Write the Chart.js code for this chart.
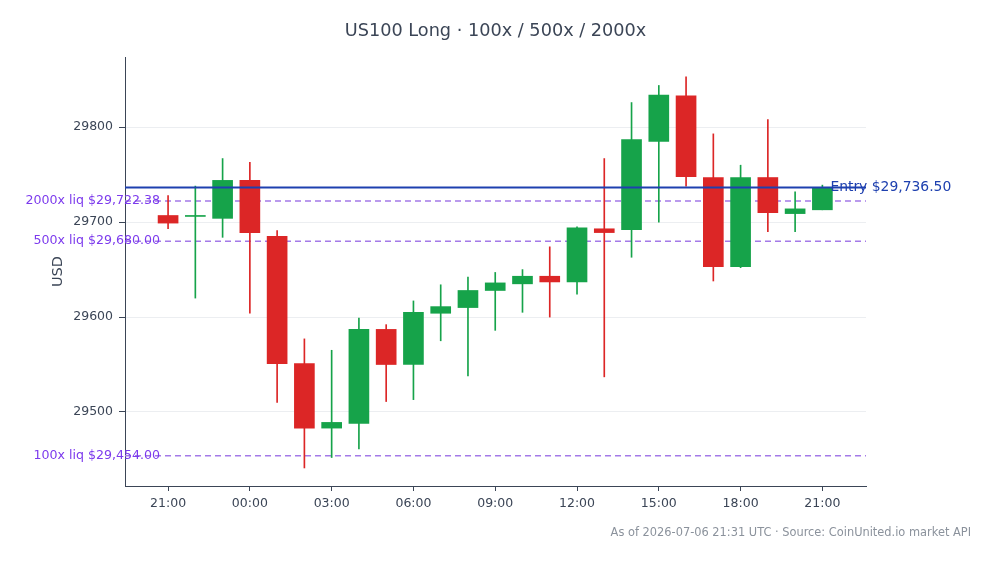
<!DOCTYPE html>
<html>
<head>
<meta charset="utf-8">
<script src="https://cdn.jsdelivr.net/npm/chart.js@4"></script>
<style>
  html, body { margin: 0; padding: 0; background: #ffffff; }
  #wrap { width: 994px; height: 564px; position: relative; }
</style>
</head>
<body>
<div id="wrap"><canvas id="candles"></canvas></div>
<script>
// hourly candles, 21:00 -> 21:00 next day
const hours  = [21, 22, 23, 0, 1, 2, 3, 4, 5, 6, 7, 8, 9, 10, 11, 12, 13, 14, 15, 16, 17, 18, 19, 20, 21];
const opens  = [29707, 29706, 29704, 29744, 29685, 29551, 29483, 29488, 29587, 29550, 29604, 29610, 29628,
                29635, 29643, 29637, 29693, 29692, 29785, 29833, 29747, 29653, 29747, 29709, 29713];
const highs  = [29728, 29738, 29767, 29763, 29691, 29577, 29565, 29599, 29592, 29617, 29634, 29642, 29647,
                29650, 29674, 29695, 29767, 29826, 29844, 29853, 29793, 29760, 29808, 29732, 29739];
const lows   = [29693, 29620, 29684, 29604, 29510, 29441, 29452, 29461, 29511, 29513, 29575, 29538, 29586,
                29605, 29600, 29624, 29537, 29663, 29700, 29738, 29638, 29652, 29690, 29690, 29713];
const closes = [29699, 29707, 29744, 29689, 29551, 29483, 29489, 29587, 29550, 29605, 29611, 29628, 29636,
                29643, 29637, 29694, 29689, 29787, 29834, 29748, 29653, 29747, 29710, 29714, 29736.5];

const entryPrice = 29736.50;
const liqLevels = [29722.38, 29680.00, 29454.00];
const liqNames  = ['2000x', '500x', '100x'];

const yTicks = [29500, 29600, 29700, 29800];
const xTickIdx = [0, 3, 6, 9, 12, 15, 18, 21, 24];
const yRange = [29422, 29874];
const xRange = [-1.58, 25.6];

const UP = '#16a34a';
const DOWN = '#dc2626';
const TEXT = '#3b4556';
const LIQ = '#a47ae8';
const LIQ_TEXT = '#7c3aed';
const ENTRY = '#1e40af';

function fmtHour(h) {
    return String(h).padStart(2, '0') + ':00';
}

function fmtUsd(v) {
    return '$' + v.toFixed(2).replace(/\B(?=(\d{3})+(?!\d))/g, ',');
}

const candleColors = opens.map((o, i) => closes[i] >= o ? UP : DOWN);

function levelLine(v) {
    return [{ x: xRange[0], y: v }, { x: xRange[1], y: v }];
}

// text overlays: title, footer, axis title, level labels
const overlayPlugin = {
    id: 'overlay',
    afterDraw(chart) {
        const ctx = chart.ctx;
        const area = chart.chartArea;
        const ys = chart.scales.y;
        const xs = chart.scales.x;
        ctx.save();

        ctx.fillStyle = TEXT;
        ctx.font = '17.7px "DejaVu Sans"';
        ctx.textAlign = 'center';
        ctx.textBaseline = 'middle';
        ctx.fillText('US100 Long \u00b7 100x / 500x / 2000x', (area.left + area.right) / 2, 31);

        ctx.fillStyle = '#8b929c';
        ctx.font = '11.4px "DejaVu Sans"';
        ctx.textAlign = 'right';
        ctx.fillText('As of 2026-07-06 21:31 UTC \u00b7 Source: CoinUnited.io market API', 971, 533);

        ctx.save();
        ctx.translate(58, (area.top + area.bottom) / 2);
        ctx.rotate(-Math.PI / 2);
        ctx.fillStyle = TEXT;
        ctx.font = '14.5px "DejaVu Sans"';
        ctx.textAlign = 'center';
        ctx.fillText('USD', 0, 0);
        ctx.restore();

        ctx.font = '12.6px "DejaVu Sans"';
        ctx.fillStyle = LIQ_TEXT;
        ctx.textAlign = 'right';
        liqLevels.forEach((v, i) => {
            ctx.fillText(liqNames[i] + ' liq ' + fmtUsd(v), area.left + 35, ys.getPixelForValue(v));
        });

        ctx.fillStyle = ENTRY;
        ctx.font = '13.9px "DejaVu Sans"';
        ctx.textAlign = 'left';
        ctx.fillText('Entry ' + fmtUsd(entryPrice), xs.getPixelForValue(hours.length - 1) + 8, ys.getPixelForValue(entryPrice));

        ctx.restore();
    }
};

const datasets = [
    {
        type: 'line',
        data: levelLine(entryPrice),
        borderColor: ENTRY,
        borderWidth: 2,
        pointRadius: 0
    },
    {
        data: opens.map((o, i) => ({ x: i, y: [o, closes[i]] })),
        backgroundColor: candleColors,
        barThickness: 20,
        minBarLength: 1
    },
    {
        data: lows.map((l, i) => ({ x: i, y: [l, highs[i]] })),
        backgroundColor: candleColors,
        barThickness: 1
    }
];

liqLevels.forEach(v => {
    datasets.push({
        type: 'line',
        data: levelLine(v),
        borderColor: LIQ,
        borderWidth: 1.5,
        borderDash: [6, 4],
        pointRadius: 0
    });
});

new Chart(document.getElementById('candles'), {
    type: 'bar',
    data: { datasets: datasets },
    plugins: [overlayPlugin],
    options: {
        responsive: true,
        maintainAspectRatio: false,
        animation: false,
        layout: { padding: { top: 57, right: 128, bottom: 0, left: 0 } },
        datasets: { bar: { grouped: false } },
        plugins: {
            legend: { display: false },
            tooltip: { enabled: false },
            title: { display: false }
        },
        scales: {
            x: {
                type: 'linear',
                offset: false,
                min: xRange[0],
                max: xRange[1],
                afterBuildTicks: scale => {
                    scale.ticks = xTickIdx.map(i => ({ value: i }));
                },
                afterFit: scale => { scale.height = 78; },
                ticks: {
                    color: TEXT,
                    font: { family: 'DejaVu Sans', size: 12.5 },
                    padding: 5,
                    maxRotation: 0,
                    callback: v => fmtHour(hours[v])
                },
                grid: {
                    offset: false,
                    drawOnChartArea: false,
                    drawTicks: true,
                    tickLength: 5,
                    tickColor: TEXT
                },
                border: { display: true, color: TEXT, width: 1 }
            },
            y: {
                min: yRange[0],
                max: yRange[1],
                afterBuildTicks: scale => {
                    scale.ticks = yTicks.map(v => ({ value: v }));
                },
                afterFit: scale => { scale.width = 125; },
                ticks: {
                    color: TEXT,
                    font: { family: 'DejaVu Sans', size: 12.5 },
                    padding: 6,
                    callback: v => String(v)
                },
                grid: {
                    color: '#eceef1',
                    drawTicks: true,
                    tickLength: 6,
                    tickColor: TEXT
                },
                border: { display: true, color: TEXT, width: 1 }
            }
        }
    }
});
</script>
</body>
</html>
